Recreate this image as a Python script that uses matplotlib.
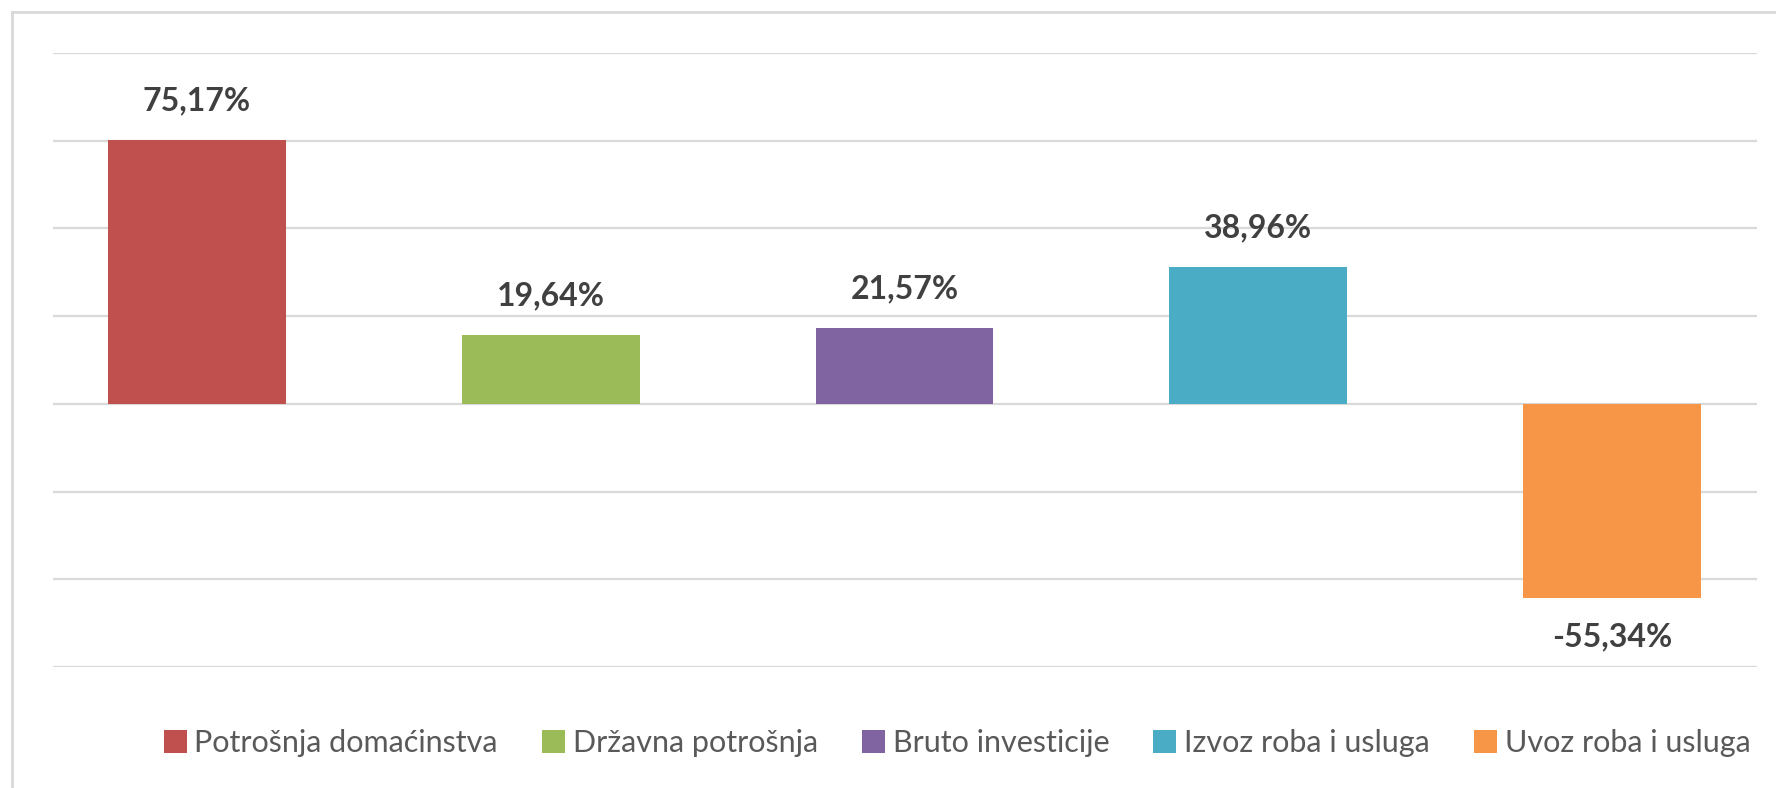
import matplotlib

matplotlib.use("Agg")
import matplotlib.pyplot as plt
from matplotlib.lines import Line2D
from matplotlib.patches import Patch

categories = [
    "Potrošnja domaćinstva",
    "Državna potrošnja",
    "Bruto investicije",
    "Izvoz roba i usluga",
    "Uvoz roba i usluga",
]
values = [75.17, 19.64, 21.57, 38.96, -55.34]
colors = ["#C0504D", "#9BBB59", "#8064A2", "#4BACC6", "#F79646"]
yticks = [-75, -50, -25, 0, 25, 50, 75, 100]

W, H = 1776, 788
fig = plt.figure(figsize=(W / 100, H / 100), dpi=100)
plt.rcParams["font.family"] = ["Lato", "DejaVu Sans"]

# plot area in pixels: gridlines span x 53..1757, y 53..667
left, right, top, bottom = 53, 1757, 53, 667
ax = fig.add_axes([left / W, 1 - bottom / H, (right - left) / W, (bottom - top) / H])

x = list(range(len(values)))
ax.bar(x, values, width=0.503, color=colors, zorder=2)
for yt in yticks:
    ax.axhline(yt, color="#d9d9d9", linewidth=1.6, zorder=1)

for xi, v in zip(x, values):
    label = f"{v:.2f}%".replace(".", ",")
    if v >= 0:
        ax.text(xi, v + 7.0, label, ha="center", va="bottom", fontsize=23,
                fontweight="bold", color="#404040")
    else:
        ax.text(xi, v - 7.0, label, ha="center", va="top", fontsize=23,
                fontweight="bold", color="#404040")

ax.set_xlim(-0.407, 4.41)
ax.set_ylim(-75, 100)
ax.axis("off")

# outer chart frame (only left and top edges visible)
fig.add_artist(Line2D([12 / W, 12 / W], [0, 1 - 12 / H], color="#d9d9d9", linewidth=2))
fig.add_artist(Line2D([12 / W, 1], [1 - 12 / H, 1 - 12 / H], color="#d9d9d9", linewidth=2))

handles = [Patch(facecolor=c, edgecolor="none") for c in colors]
fig.legend(
    handles,
    categories,
    loc="center",
    bbox_to_anchor=(957 / W, 1 - 743 / H),
    ncol=5,
    frameon=False,
    fontsize=22,
    labelcolor="#595959",
    handlelength=0.75,
    handleheight=0.75,
    handletextpad=0.25,
    columnspacing=1.45,
)

fig.savefig("out.png", dpi=100)
